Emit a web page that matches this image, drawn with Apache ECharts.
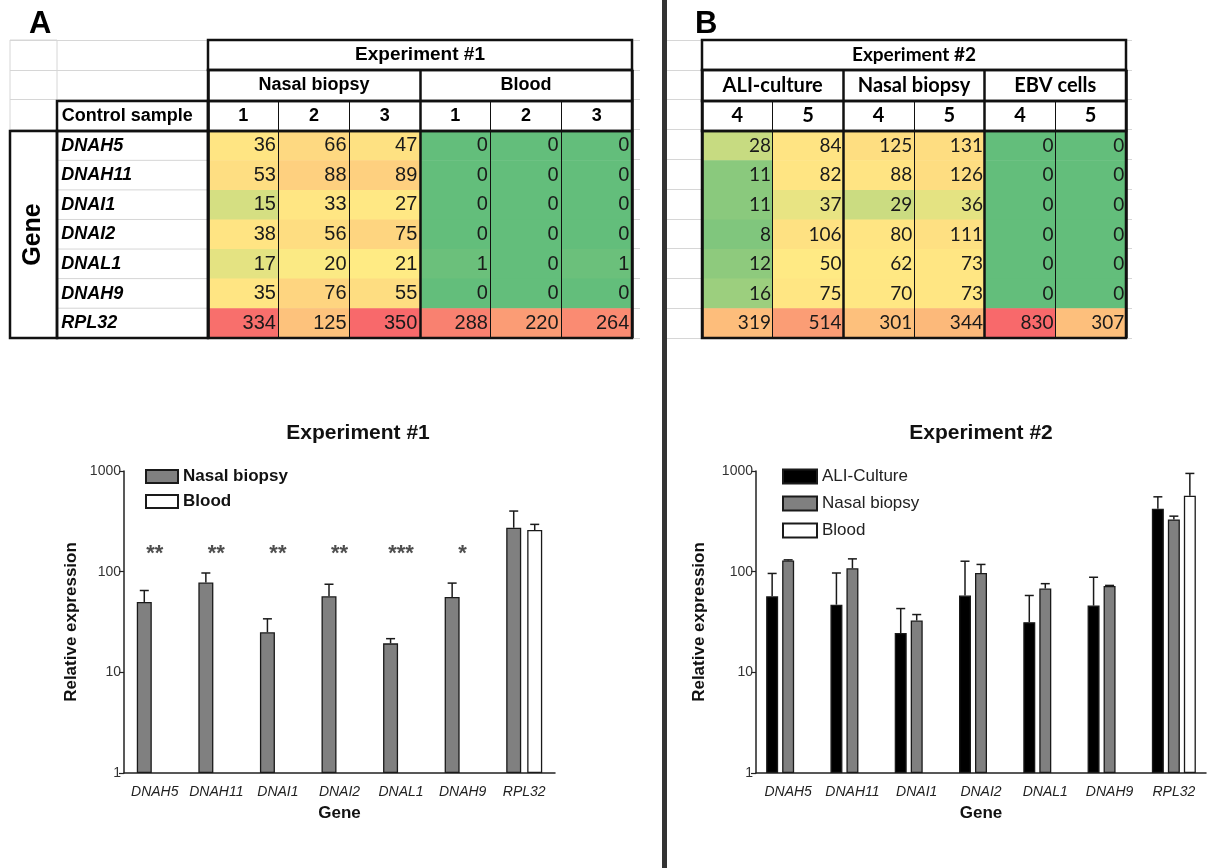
<!DOCTYPE html>
<html><head><meta charset="utf-8">
<script src="https://cdn.jsdelivr.net/npm/echarts@6/dist/echarts.min.js"></script>
<style>html,body{margin:0;padding:0;background:#fff}#c{width:1215px;height:868px}</style>
</head><body><div id="c"></div>
<script>
// ---------------- DATA ----------------
const genes = ['DNAH5','DNAH11','DNAI1','DNAI2','DNAL1','DNAH9','RPL32'];

// Table A (Experiment #1)
const tableATitle = 'Experiment #1';
const tableAGroups = ['Nasal biopsy','Blood'];
const tableASamples = ['1','2','3','1','2','3'];
const tA_nasal1 = [36,53,15,38,17,35,334];
const tA_nasal2 = [66,88,33,56,20,76,125];
const tA_nasal3 = [47,89,27,75,21,55,350];
const tA_blood1 = [0,0,0,0,1,0,288];
const tA_blood2 = [0,0,0,0,0,0,220];
const tA_blood3 = [0,0,0,0,1,0,264];

// Table B (Experiment #2)
const tableBTitle = 'Experiment #2';
const tableBGroups = ['ALI-culture','Nasal biopsy','EBV cells'];
const tableBSamples = ['4','5','4','5','4','5'];
const tB_ali4 = [28,11,11,8,12,16,319];
const tB_ali5 = [84,82,37,106,50,75,514];
const tB_nasal4 = [125,88,29,80,62,70,301];
const tB_nasal5 = [131,126,36,111,73,73,344];
const tB_ebv4 = [0,0,0,0,0,0,830];
const tB_ebv5 = [0,0,0,0,0,0,307];

// Chart A (Experiment #1) – mean and upper error
const cA_nasal = [50,78,25,57,19.4,56,273];
const cA_nasalErr = [15,19,9,18,2.2,21,127];
const cA_blood = [null,null,null,null,null,null,259];
const cA_bloodErr = [null,null,null,null,null,null,36];
const cA_sig = ['**','**','**','**','***','*',''];

// Chart B (Experiment #2)
const cB_ali = [57,47,24.6,58,31.5,46,421];
const cB_aliErr = [39,50,18.4,69,26.5,42,133];
const cB_nasal = [129,108,32.7,97,68,72,330];
const cB_nasalErr = [2,26,4.8,21,8,1,26];
const cB_blood = [null,null,null,null,null,null,567];
const cB_bloodErr = [null,null,null,null,null,null,379];

const yTicks = [1,10,100,1000];

// ---------------- BUILD ----------------
const AR = "'Liberation Sans', Arial, sans-serif";
const ARN = "'Liberation Sans Narrow', 'Arial Narrow', 'Liberation Sans', sans-serif";
const CAL = "Lato, 'Open Sans', sans-serif";
const grids = [], xAxes = [], yAxes = [], series = [];

function scalePos(vals){
  const s = [...vals].sort((a,b)=>a-b), n = s.length;
  const min = s[0], max = s[n-1];
  const mid = n % 2 ? s[(n-1)/2] : (s[n/2-1] + s[n/2]) / 2;
  return v => v <= mid ? 0.5*(v-min)/(mid-min) : 0.5 + 0.5*(v-mid)/(max-mid);
}
function tableItems(cols){
  const f = scalePos(cols.flat());
  const d = [];
  cols.forEach((col,c)=>col.forEach((v,r)=>d.push([c,r,v,f(v)])));
  return d;
}
function cat(gi, n, split, z){
  return {type:'category', gridIndex:gi, data:Array.from({length:n},(_,i)=>String(i)),
    axisLine:{show:false}, axisTick:{show:false}, axisLabel:{show:false},
    splitLine: split ? {show:true, lineStyle:split} : {show:false}, z:z == null ? 6 : z};
}
function block(o){
  const gi = grids.length;
  grids.push({left:o.left, top:o.top, width:o.width, height:o.height, show:true,
    borderColor:o.bc || '#111', borderWidth:o.bw == null ? 2.5 : o.bw, backgroundColor:'rgba(0,0,0,0)', z:o.gz == null ? 5 : o.gz});
  const xi = xAxes.length;
  xAxes.push(cat(gi, o.cols, o.thin ? {color:'#111', width:1} : null, o.az));
  if (o.groups) xAxes.push(cat(gi, o.groups, {color:'#111', width:2.5}, o.az));
  const yi = yAxes.length;
  yAxes.push(Object.assign(cat(gi, o.rows, o.hlines || null, o.az), {inverse:true}));
  if (o.data) {
    series.push({type:'heatmap', name:'cells'+gi, xAxisIndex:xi, yAxisIndex:yi, data:o.data,
      itemStyle:o.itemStyle || {color:'#fff'}, label:Object.assign({show:true}, o.label),
      emphasis:{disabled:true}, silent:true, z:2});
  }
  return series.length-1;
}
const headA = {fontFamily:AR, fontSize:18, fontWeight:'bold', color:'#000'};
const headB = {fontFamily:CAL, fontSize:19, fontWeight:'bold', color:'#000'};
const light = {color:'#d6d6d6', width:1};

// background excel gridlines (below everything)
block({left:10, top:40, width:630, height:298, cols:1, rows:10, hlines:light, bw:0, az:0, gz:0});
block({left:667, top:40, width:465, height:298, cols:1, rows:10, hlines:light, bw:0, az:0, gz:0});
block({left:10, top:40, width:47, height:91, cols:1, rows:3, bw:1, bc:'#d6d6d6', az:0, gz:0});

// ---- Table A ----
const TAL = 208, TAW = 424;
block({left:TAL, top:40, width:TAW, height:30, cols:1, rows:1, data:[[0,0,0]],
  label:Object.assign({formatter:()=>tableATitle}, headA, {fontSize:19})});
block({left:TAL, top:70, width:TAW, height:31, cols:2, rows:1, groups:2,
  data:tableAGroups.map((g,i)=>[i,0,0]), label:Object.assign({formatter:p=>tableAGroups[p.data[0]]}, headA)});
block({left:TAL, top:101, width:TAW, height:30, cols:6, rows:1, thin:true, groups:2,
  data:tableASamples.map((s,i)=>[i,0,0]), label:Object.assign({formatter:p=>tableASamples[p.data[0]]}, headA)});
const dataAIdx = block({left:TAL, top:131, width:TAW, height:207, cols:6, rows:7, thin:true, groups:2,
  data:tableItems([tA_nasal1,tA_nasal2,tA_nasal3,tA_blood1,tA_blood2,tA_blood3]),
  itemStyle:{}, label:{formatter:p=>String(p.data[2]), position:'insideRight', distance:3,
    fontFamily:ARN, fontSize:20, color:'#1a1a1a'}});
block({left:57, top:101, width:151, height:30, cols:1, rows:1, data:[[0,0,0]],
  label:Object.assign({formatter:()=>'Control sample', position:'insideLeft', distance:5}, headA)});
block({left:57, top:131, width:151, height:207, cols:1, rows:7,
  data:genes.map((g,i)=>[0,i,0]), itemStyle:{color:'#fff', borderColor:'#d6d6d6', borderWidth:1},
  label:{formatter:p=>genes[p.data[1]], position:'insideLeft', distance:5, fontFamily:AR,
    fontSize:18, fontWeight:'bold', fontStyle:'italic', color:'#000'}});
block({left:10, top:131, width:47, height:207, cols:1, rows:1, data:[[0,0,0]],
  label:{formatter:()=>'Gene', rotate:90, fontFamily:AR, fontSize:25, fontWeight:'bold', color:'#000'}});

// ---- Table B ----
const TBL = 702, TBW = 424;
block({left:TBL, top:40, width:TBW, height:30, cols:1, rows:1, data:[[0,0,0]],
  label:Object.assign({formatter:()=>tableBTitle}, headB)});
block({left:TBL, top:70, width:TBW, height:31, cols:3, rows:1, groups:3,
  data:tableBGroups.map((g,i)=>[i,0,0]), label:Object.assign({formatter:p=>tableBGroups[p.data[0]]}, headB, {fontSize:20})});
block({left:TBL, top:101, width:TBW, height:30, cols:6, rows:1, thin:true, groups:3,
  data:tableBSamples.map((s,i)=>[i,0,0]), label:Object.assign({formatter:p=>tableBSamples[p.data[0]]}, headB, {fontSize:20})});
const dataBIdx = block({left:TBL, top:131, width:TBW, height:207, cols:6, rows:7, thin:true, groups:3,
  data:tableItems([tB_ali4,tB_ali5,tB_nasal4,tB_nasal5,tB_ebv4,tB_ebv5]),
  itemStyle:{}, label:{formatter:p=>String(p.data[2]), position:'insideRight', distance:2,
    fontFamily:CAL, fontSize:19, color:'#1a1a1a'}});

// ---- Charts ----
const axisCol = '#222';
function chartAxes(left, width, nameGapY){
  const gi = grids.length;
  grids.push({left:left, top:471, width:width, height:302});
  const xi = xAxes.length;
  xAxes.push({type:'category', gridIndex:gi, data:genes,
    axisLine:{lineStyle:{color:axisCol, width:1.5}}, axisTick:{show:false},
    axisLabel:{interval:0, fontStyle:'italic', fontSize:14, color:'#222', fontFamily:AR, margin:12},
    name:'Gene', nameLocation:'middle', nameGap:32,
    nameTextStyle:{fontSize:17, fontWeight:'bold', color:'#111', fontFamily:AR}});
  const yi = yAxes.length;
  yAxes.push({type:'log', logBase:10, gridIndex:gi, min:yTicks[0], max:yTicks[yTicks.length-1],
    axisLine:{show:true, lineStyle:{color:axisCol, width:1.5}},
    axisTick:{show:true, length:5, lineStyle:{color:axisCol, width:1.2}},
    minorTick:{show:false}, splitLine:{show:false},
    axisLabel:{fontSize:14, color:'#333', fontFamily:AR, margin:3, formatter:v=>String(v)},
    name:'Relative expression', nameLocation:'middle', nameRotate:90, nameGap:nameGapY,
    nameTextStyle:{fontSize:17, fontWeight:'bold', color:'#111', fontFamily:AR}});
  return {xi, yi};
}
function bars(name, ax, vals, color, bw, gap){
  series.push({type:'bar', name, xAxisIndex:ax.xi, yAxisIndex:ax.yi,
    data:vals.map(v=>v==null?'-':v), barWidth:bw, barGap:(gap/bw*100)+'%',
    itemStyle:{color, borderColor:'#1a1a1a', borderWidth:1.3}, silent:true, z:3});
}
function errs(ax, vals, errsArr, slot, n, bw, gap){
  const data = [];
  vals.forEach((v,i)=>{ if (v!=null) data.push([i, v, v+errsArr[i]]); });
  series.push({type:'custom', xAxisIndex:ax.xi, yAxisIndex:ax.yi, data, silent:true, z:4,
    renderItem(params, api){
      const i = api.value(0);
      const b = api.coord([i, api.value(1)]), t = api.coord([i, api.value(2)]);
      const x = b[0] + (slot - (n-1)/2) * (bw + gap);
      const st = {stroke:'#1a1a1a', lineWidth:1.5};
      return {type:'group', children:[
        {type:'line', shape:{x1:x, y1:b[1], x2:x, y2:t[1]}, style:st},
        {type:'line', shape:{x1:x-4.5, y1:t[1], x2:x+4.5, y2:t[1]}, style:st}]};
    }});
}
// Chart A
const axA = chartAxes(124, 431, 44);
bars('Nasal biopsy', axA, cA_nasal, '#808080', 15, 6);
bars('Blood', axA, cA_blood, '#ffffff', 15, 6);
errs(axA, cA_nasal, cA_nasalErr, 0, 2, 15, 6);
errs(axA, cA_blood, cA_bloodErr, 1, 2, 15, 6);
const STAR_Y = 150;
series.push({type:'scatter', xAxisIndex:axA.xi, yAxisIndex:axA.yi, symbolSize:2, silent:true,
  itemStyle:{color:'rgba(0,0,0,0)'},
  data:cA_sig.map((s,i)=>[i, STAR_Y, s]).filter(d=>d[2]!==''),
  label:{show:true, position:'inside', formatter:p=>p.data[2], fontSize:22, fontWeight:'bold',
    fontFamily:AR, color:'#222'}, z:5});
// Chart B
const axB = chartAxes(756, 450, 48);
bars('ALI-Culture', axB, cB_ali, '#000000', 12, 4);
bars('Nasal biopsy', axB, cB_nasal, '#808080', 12, 4);
bars('Blood', axB, cB_blood, '#ffffff', 12, 4);
errs(axB, cB_ali, cB_aliErr, 0, 3, 12, 4);
errs(axB, cB_nasal, cB_nasalErr, 1, 3, 12, 4);
errs(axB, cB_blood, cB_bloodErr, 2, 3, 12, 4);

const option = {
  animation:false,
  backgroundColor:'#fff',
  title:[
    {text:'A', left:29, top:9, padding:0, textStyle:{fontSize:31, fontWeight:'bold', fontFamily:AR, color:'#000'}},
    {text:'B', left:695, top:9, padding:0, textStyle:{fontSize:31, fontWeight:'bold', fontFamily:AR, color:'#000'}},
    {text:'Experiment #1', left:358, top:423, padding:0, textAlign:'center',
      textStyle:{fontSize:21, fontWeight:'bold', fontFamily:AR, color:'#111'}},
    {text:'Experiment #2', left:981, top:423, padding:0, textAlign:'center',
      textStyle:{fontSize:21, fontWeight:'bold', fontFamily:AR, color:'#111'}}
  ],
  legend:[
    {data:['Nasal biopsy','Blood'], orient:'vertical', left:145, top:468, padding:0,
      itemWidth:32, itemHeight:13, itemGap:8, icon:'rect', selectedMode:false,
      textStyle:{fontFamily:AR, fontSize:17, fontWeight:'bold', color:'#111', lineHeight:16}},
    {data:['ALI-Culture','Nasal biopsy','Blood'], orient:'vertical', left:782, top:468, padding:0,
      itemWidth:34, itemHeight:14, itemGap:10, icon:'rect', selectedMode:false,
      textStyle:{fontFamily:AR, fontSize:17, color:'#222', lineHeight:16}}
  ],
  visualMap:[{show:false, type:'continuous', seriesIndex:[dataAIdx, dataBIdx], dimension:3,
    min:0, max:1, inRange:{color:['#63BE7B','#FFEB84','#F8696B']}}],
  grid:grids, xAxis:xAxes, yAxis:yAxes, series:series,
  graphic:[{type:'rect', left:662, top:0, shape:{width:5, height:868}, style:{fill:'#333'}, silent:true}]
};
const chart = echarts.init(document.getElementById('c'), null, {renderer:'canvas'});
chart.setOption(option);
</script>
</body></html>
